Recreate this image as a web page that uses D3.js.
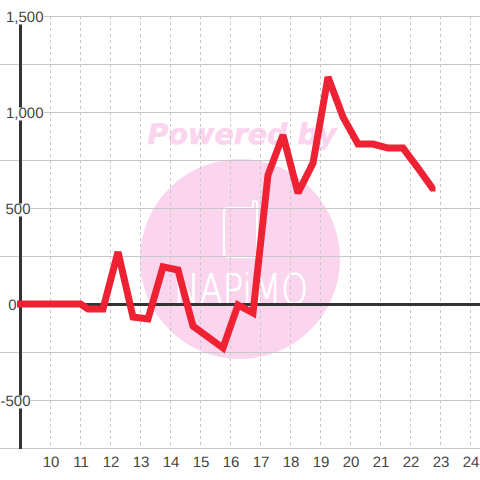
<!DOCTYPE html>
<html>
<head>
<meta charset="utf-8">
<script src="https://cdn.jsdelivr.net/npm/d3@7"></script>
<style>
html, body { margin: 0; padding: 0; background: #fff; }
svg { display: block; }
text { text-rendering: geometricPrecision; }
</style>
</head>
<body>
<div id="chart"></div>
<script>
var hours = [8.75, 9.25, 9.75, 10.25, 10.75, 11, 11.25, 11.75, 12.25, 12.75, 13.25, 13.75, 14.25, 14.75, 15.25, 15.75, 16.25, 16.75, 17.25, 17.75, 18.25, 18.75, 19.25, 19.75, 20.25, 20.75, 21.25, 21.75, 22.25, 22.75];
var values = [0, 0, 0, 0, 0, 0, -26, -26, 271, -68, -78, 193, 177, -115, -172, -229, -5, -47, 672, 880, 578, 734, 1182, 974, 833, 833, 812, 812, 708, 599];
var xTicks = [10, 11, 12, 13, 14, 15, 16, 17, 18, 19, 20, 21, 22, 23, 24];
var yLabels = [1500, 1000, 500, 0, -500];
var yGrid = [1500, 1250, 1000, 750, 500, 250, 0, -250, -500, -750];

var size = 480;
var xScale = d3.scaleLinear().domain([9, 25]).range([20.5, 500.5]);
var yScale = d3.scaleLinear().domain([-750, 1500]).range([448.5, 16.5]);

var svg = d3.select('#chart').append('svg')
    .attr('width', size)
    .attr('height', size);

// the line is cut at the axis on the left and squared off at its last point
var clip = svg.append('defs').append('clipPath').attr('id', 'plot');
clip.append('rect')
    .attr('x', 17).attr('y', 0).attr('width', 388).attr('height', size);
clip.append('rect')
    .attr('x', 405).attr('y', 0).attr('width', 30.5).attr('height', 191.5);

// watermark
var mark = svg.append('g');
mark.append('circle')
    .attr('cx', 240).attr('cy', 259).attr('r', 100)
    .attr('fill', '#fbd5ee');
mark.append('text')
    .attr('x', 242).attr('y', 144)
    .attr('text-anchor', 'middle')
    .attr('font-family', 'DejaVu Sans')
    .attr('font-size', 28.5)
    .attr('font-weight', 'bold')
    .attr('font-style', 'italic')
    .attr('fill', '#fbd5ee')
    .attr('stroke', '#fbd5ee')
    .attr('stroke-width', 0.6)
    .text('Powered by');
mark.append('path')
    .attr('d', 'M228,208 H251 Q253,208 253,205 V202 Q255,199 257,202 V253 Q257,257 253,257 H228 Q224,257 224,253 V212 Q224,208 228,208 Z')
    .attr('fill', 'none').attr('stroke', '#fff').attr('stroke-width', 2.2);
mark.append('text')
    .attr('x', 241).attr('y', 304)
    .attr('text-anchor', 'middle')
    .attr('font-family', 'DejaVu Sans')
    .attr('font-weight', 200)
    .attr('font-size', 42)
    .attr('fill', '#fff')
    .attr('stroke', '#fff')
    .attr('stroke-width', 0.8)
    .attr('textLength', 134)
    .attr('lengthAdjust', 'spacingAndGlyphs')
    .text('NAPiMO');

// grid
svg.append('g').selectAll('line').data(yGrid).join('line')
    .attr('x1', 0).attr('x2', size)
    .attr('y1', function(d) { return yScale(d); })
    .attr('y2', function(d) { return yScale(d); })
    .attr('stroke', '#c8c8c8')
    .attr('stroke-width', 1);

svg.append('g').selectAll('line').data(xTicks).join('line')
    .attr('x1', function(d) { return xScale(d); })
    .attr('x2', function(d) { return xScale(d); })
    .attr('y1', 16).attr('y2', 448)
    .attr('stroke', '#c8c8c8')
    .attr('stroke-dasharray', '3,3');

// axis lines
svg.append('line')
    .attr('x1', 20.5).attr('x2', 20.5).attr('y1', 16).attr('y2', 449)
    .attr('stroke', '#333').attr('stroke-width', 3);
svg.append('line')
    .attr('x1', 0).attr('x2', size)
    .attr('y1', yScale(0)).attr('y2', yScale(0))
    .attr('stroke', '#333').attr('stroke-width', 3);

// y labels with white boxes behind
var fmt = d3.format(',');
var yAxis = svg.append('g').selectAll('g').data(yLabels).join('g')
    .attr('transform', function(d) { return 'translate(0,' + yScale(d) + ')'; });
yAxis.append('rect')
    .attr('x', 0)
    .attr('y', function(d) { return d == 1500 ? -17 : -5; })
    .attr('width', function(d) { return d == 0 ? 17 : (d == 1500 || d == 1000) ? 44 : 31; })
    .attr('height', function(d) { return d == 1500 ? 25 : 13; })
    .attr('fill', '#fff');
yAxis.append('text')
    .attr('x', function(d) { return d == 1500 || d == 1000 ? 43.5 : d == 0 ? 16.5 : 30.5; })
    .attr('y', 5.5)
    .attr('text-anchor', 'end')
    .attr('font-family', 'Liberation Sans')
    .attr('font-size', 15)
    .attr('fill', '#444')
    .text(function(d) { return d < 0 ? '-' + Math.abs(d) : fmt(d); });

svg.append('g').selectAll('text').data(xTicks).join('text')
    .attr('x', function(d) { return xScale(d) + 0.5; })
    .attr('y', 466.5)
    .attr('text-anchor', 'middle')
    .attr('font-family', 'Liberation Sans')
    .attr('font-size', 15)
    .attr('fill', '#444')
    .text(function(d) { return d; });

var line = d3.line()
    .x(function(d, i) { return xScale(hours[i]); })
    .y(function(d) { return yScale(d) - 0.5; });

svg.append('path')
    .attr('clip-path', 'url(#plot)')
    .attr('fill', 'none')
    .attr('stroke', '#ee2233')
    .attr('stroke-width', 7)
    .attr('stroke-linejoin', 'miter')
    .attr('stroke-miterlimit', 2)
    .attr('stroke-linecap', 'square')
    .attr('d', line(values));
</script>
</body>
</html>
